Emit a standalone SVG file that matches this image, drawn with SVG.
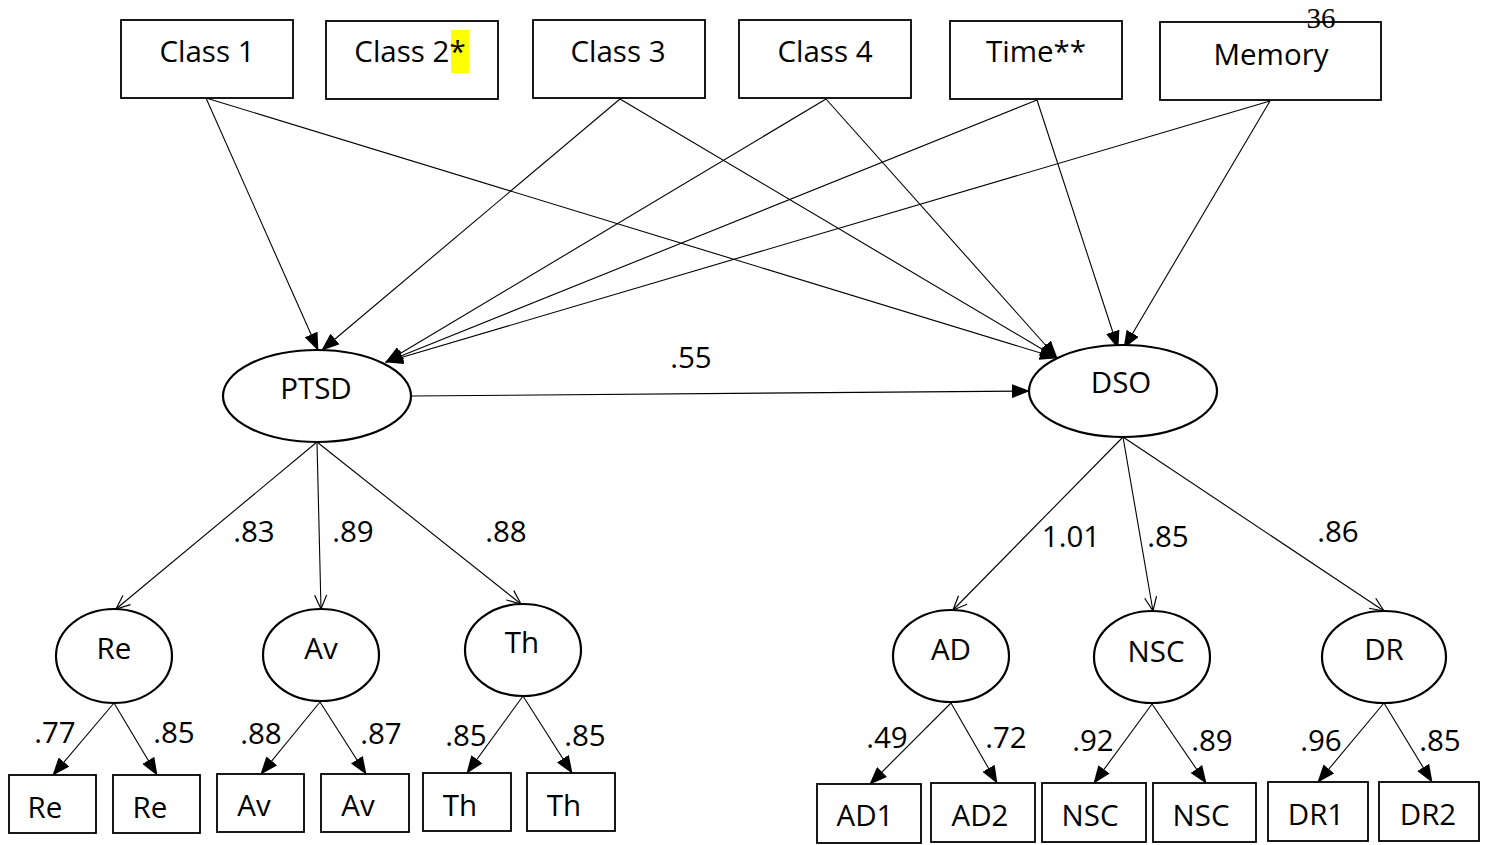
<svg xmlns="http://www.w3.org/2000/svg" width="1490" height="845" viewBox="0 0 1490 845">
<style>
text{font-family:"Open Sans","Liberation Sans",sans-serif;font-size:29.5px;fill:#000;text-anchor:middle}
.box{fill:#fff;stroke:#000;stroke-width:1.8}
.ell{fill:#fff;stroke:#000;stroke-width:2.2}
.c{fill:none;stroke:#000;stroke-width:1.1}
.fa{marker-end:url(#fa)}
.oa{marker-end:url(#oa)}
.pg{font-family:"Liberation Serif",serif;font-size:29px}
</style>
<defs>
<marker id="fa" markerWidth="18" markerHeight="14" refX="17" refY="7" orient="auto" markerUnits="userSpaceOnUse"><path d="M0,0 L18,7 L0,14 z" fill="#000"/></marker>
<marker id="oa" markerWidth="16" markerHeight="14" refX="15" refY="7" orient="auto" markerUnits="userSpaceOnUse"><path d="M1,1 L15,7 L1,13" fill="none" stroke="#000" stroke-width="1.2"/></marker>
</defs>
<rect width="1490" height="845" fill="#fff"/>
<g id="connectors">
<line class="c fa" x1="206" y1="98" x2="318" y2="350"/>
<line class="c fa" x1="206" y1="98" x2="1057" y2="358"/>
<line class="c fa" x1="620" y1="99" x2="322" y2="350"/>
<line class="c fa" x1="620" y1="99" x2="1057" y2="358"/>
<line class="c fa" x1="826" y1="99" x2="386" y2="362"/>
<line class="c fa" x1="826" y1="99" x2="1057" y2="358"/>
<line class="c fa" x1="1037" y1="100" x2="386" y2="362"/>
<line class="c fa" x1="1037" y1="100" x2="1118" y2="348"/>
<line class="c fa" x1="1270" y1="101" x2="386" y2="362"/>
<line class="c fa" x1="1270" y1="101" x2="1124" y2="348"/>
<line class="c fa" x1="411" y1="396" x2="1029" y2="391"/>
<line class="c oa" x1="317" y1="442" x2="116" y2="609"/>
<line class="c oa" x1="317" y1="442" x2="321" y2="609"/>
<line class="c oa" x1="317" y1="442" x2="521" y2="604"/>
<line class="c oa" x1="1123" y1="437" x2="953" y2="610"/>
<line class="c oa" x1="1123" y1="437" x2="1153" y2="611"/>
<line class="c oa" x1="1123" y1="437" x2="1384" y2="611"/>
<line class="c fa" x1="114" y1="703" x2="53" y2="775"/>
<line class="c fa" x1="114" y1="703" x2="157" y2="775"/>
<line class="c fa" x1="320" y1="702" x2="261" y2="774"/>
<line class="c fa" x1="320" y1="702" x2="366" y2="774"/>
<line class="c fa" x1="523" y1="696" x2="467" y2="773"/>
<line class="c fa" x1="523" y1="696" x2="572" y2="773"/>
<line class="c fa" x1="951" y1="703" x2="870" y2="784"/>
<line class="c fa" x1="951" y1="703" x2="997" y2="783"/>
<line class="c fa" x1="1152" y1="704" x2="1094" y2="783"/>
<line class="c fa" x1="1152" y1="704" x2="1206" y2="783"/>
<line class="c fa" x1="1384" y1="703" x2="1318" y2="782"/>
<line class="c fa" x1="1384" y1="703" x2="1432" y2="782"/>
</g>
<g id="labels">
<text x="691" y="368">.55</text>
<text x="254" y="542">.83</text>
<text x="353" y="542">.89</text>
<text x="506" y="542">.88</text>
<text x="1071" y="547">1.01</text>
<text x="1168" y="547">.85</text>
<text x="1338" y="542">.86</text>
<text x="55" y="743">.77</text>
<text x="174" y="743">.85</text>
<text x="261" y="744">.88</text>
<text x="381" y="744">.87</text>
<text x="466" y="746">.85</text>
<text x="585" y="746">.85</text>
<text x="887" y="748">.49</text>
<text x="1006" y="748">.72</text>
<text x="1093" y="751">.92</text>
<text x="1212" y="751">.89</text>
<text x="1321" y="751">.96</text>
<text x="1440" y="751">.85</text>
</g>
<g id="class1"><rect class="box" x="121" y="20" width="172" height="78"/><text x="207" y="62">Class 1</text></g>
<g id="class2"><rect class="box" x="326" y="21" width="172" height="78"/><rect x="451" y="30" width="18" height="43" fill="#ffff00"/><text x="410" y="62">Class 2*</text></g>
<g id="class3"><rect class="box" x="533" y="20" width="172" height="78"/><text x="618" y="62">Class 3</text></g>
<g id="class4"><rect class="box" x="739" y="20" width="172" height="78"/><text x="825" y="62">Class 4</text></g>
<g id="time"><rect class="box" x="950" y="21" width="172" height="78"/><text x="1036" y="62">Time**</text></g>
<g id="memory"><rect class="box" x="1160" y="22" width="221" height="78"/><text x="1271" y="65">Memory</text></g>
<text class="pg" x="1321" y="28">36</text>
<g id="ptsd"><ellipse class="ell" cx="317" cy="396" rx="94" ry="46"/><text x="316" y="399">PTSD</text></g>
<g id="dso"><ellipse class="ell" cx="1123" cy="391" rx="94" ry="46"/><text x="1121" y="393">DSO</text></g>
<g id="re"><ellipse class="ell" cx="114" cy="656" rx="58" ry="47"/><text x="114" y="659">Re</text></g>
<g id="av"><ellipse class="ell" cx="321" cy="655" rx="58" ry="46"/><text x="321" y="659">Av</text></g>
<g id="th"><ellipse class="ell" cx="523" cy="650" rx="58" ry="46"/><text x="522" y="653">Th</text></g>
<g id="ad"><ellipse class="ell" cx="951" cy="656" rx="58" ry="46"/><text x="951" y="660">AD</text></g>
<g id="nsc"><ellipse class="ell" cx="1152" cy="657" rx="58" ry="46"/><text x="1156" y="662">NSC</text></g>
<g id="dr"><ellipse class="ell" cx="1384" cy="657" rx="62" ry="46"/><text x="1384" y="660">DR</text></g>
<g id="re1"><rect class="box" x="9" y="775" width="87" height="58"/><text x="45" y="818">Re</text></g>
<g id="re2"><rect class="box" x="113" y="775" width="87" height="58"/><text x="150" y="818">Re</text></g>
<g id="av1"><rect class="box" x="217" y="774" width="87" height="58"/><text x="254" y="816">Av</text></g>
<g id="av2"><rect class="box" x="321" y="774" width="88" height="58"/><text x="358" y="816">Av</text></g>
<g id="th1"><rect class="box" x="423" y="773" width="88" height="58"/><text x="460" y="816">Th</text></g>
<g id="th2"><rect class="box" x="527" y="773" width="88" height="58"/><text x="564" y="816">Th</text></g>
<g id="ad1"><rect class="box" x="817" y="784" width="104" height="59"/><text x="865" y="826">AD1</text></g>
<g id="ad2"><rect class="box" x="931" y="783" width="104" height="59"/><text x="980" y="826">AD2</text></g>
<g id="nsc1"><rect class="box" x="1042" y="783" width="104" height="59"/><text x="1090" y="826">NSC</text></g>
<g id="nsc2"><rect class="box" x="1153" y="783" width="103" height="59"/><text x="1201" y="826">NSC</text></g>
<g id="dr1"><rect class="box" x="1268" y="782" width="100" height="59"/><text x="1316" y="825">DR1</text></g>
<g id="dr2"><rect class="box" x="1379" y="782" width="100" height="59"/><text x="1428" y="825">DR2</text></g>
</svg>
